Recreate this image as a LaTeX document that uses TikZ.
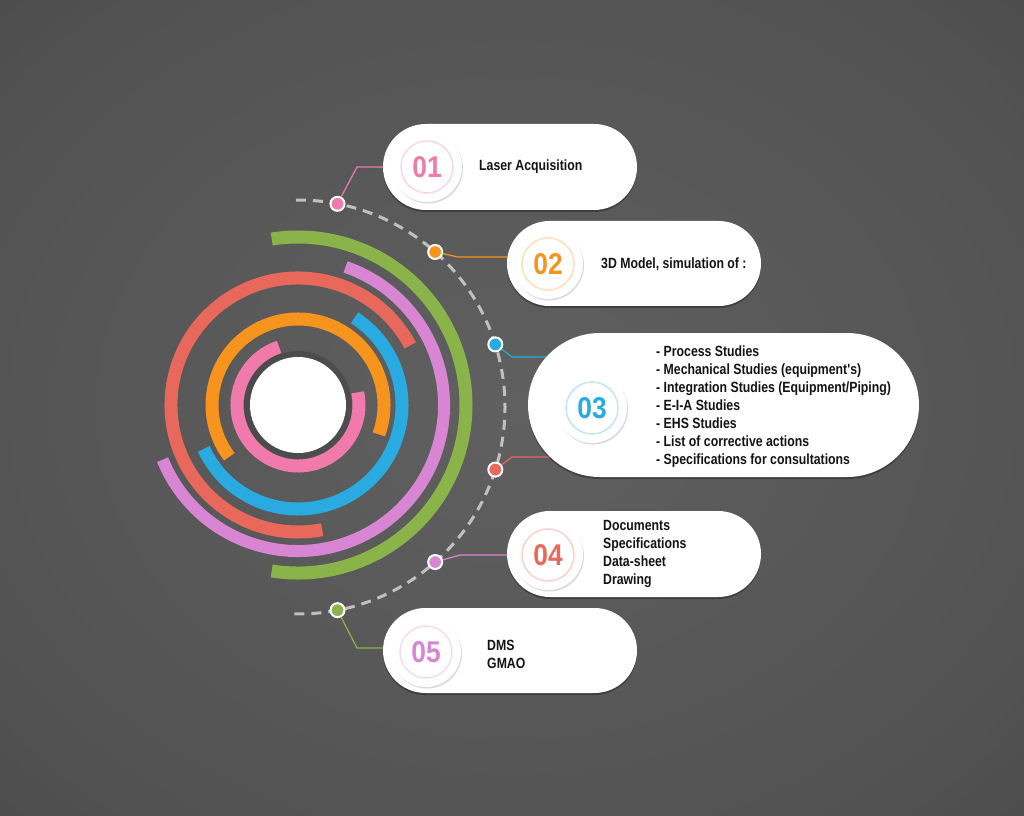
\documentclass[tikz,border=0pt]{standalone}
\usepackage{fontspec}
\newfontfamily\condfont{Liberation Sans Bold}[FakeStretch=0.83]
\newfontfamily\numfont{Liberation Sans Bold}[FakeStretch=0.88]
\usetikzlibrary{shapes.misc,shadows,calc}
\pgfdeclarelayer{bg}
\pgfdeclarelayer{mid}
\pgfsetlayers{bg,mid,main}
\definecolor{cpink}{RGB}{241,122,172}
\definecolor{corange}{RGB}{247,148,30}
\definecolor{cblue}{RGB}{41,171,226}
\definecolor{cred}{RGB}{232,104,92}
\definecolor{cviolet}{RGB}{216,134,212}
\definecolor{cgreen}{RGB}{138,180,74}
\definecolor{dashc}{RGB}{192,192,192}
\definecolor{bgin}{RGB}{96,96,96}
\definecolor{bgmid}{RGB}{82,82,82}
\definecolor{bgout}{RGB}{62,62,62}
\definecolor{txtc}{RGB}{20,20,20}
\pgfdeclareradialshading{bgsh}{\pgfpoint{0bp}{0bp}}{color(0bp)=(bgin); color(30bp)=(bgmid); color(50bp)=(bgout); color(100bp)=(bgout)}
\tikzset{
  ring/.style={line width=13},
  dashring/.style={dashc, line width=3, dash pattern=on 10 off 7},
  dotst/.style={circle, draw=white, line width=2, minimum size=14, inner sep=0},
  pill/.style={shape=rounded rectangle, fill=white, inner sep=0,
    drop shadow={shadow xshift=0pt, shadow yshift=-2pt, opacity=0.3, fill=black}},
  numdisc/.style={circle, fill=white, minimum size=70, inner sep=0,
    drop shadow={shadow xshift=1pt, shadow yshift=-1.5pt, opacity=0.15, fill=black}},
  numtxt/.style={font={\numfont\fontsize{30pt}{30pt}\selectfont}},
  txt/.style={anchor=west, align=left, text=txtc, inner sep=0,
    font={\condfont\fontsize{14.8pt}{18pt}\selectfont}},
  conn/.style={line width=1.2},
}
\begin{document}
\begin{tikzpicture}[x=1pt,y=1pt]
\useasboundingbox (0,0) rectangle (1024,815);
\begin{pgfonlayer}{bg}
\shade[shading=bgsh] (0,0) rectangle (1024,815);
\end{pgfonlayer}
% centres
\coordinate (A) at (298,410);
\coordinate (D) at (298,408);
% concentric arcs
\draw[ring, cgreen] (A) ++(-99:168) arc[start angle=-99, end angle=99, radius=168];
\draw[ring, cviolet, line width=12] (A) ++(-158:146) arc[start angle=-158, end angle=71, radius=146];
\draw[ring, cred] (A) ++(28:127) arc[start angle=28, end angle=281, radius=127];
\draw[ring, cblue] (A) ++(-155:104) arc[start angle=-155, end angle=57, radius=104];
\draw[ring, corange] (A) ++(-20:86) arc[start angle=-20, end angle=217, radius=86];
\draw[ring, cpink] (A) ++(108:61) arc[start angle=108, end angle=372, radius=61];
\fill[black, opacity=0.16] (A) circle[radius=54];
\fill[white] (A) circle[radius=48];
% dashed ring
\draw[dashring] (D) ++(-91:207) arc[start angle=-91, end angle=91, radius=207];
\path (D) ++(79:207) node[dotst, fill=cpink] (d1) {};
\path (D) ++(48.5:207) node[dotst, fill=corange] (d2) {};
\path (D) ++(17.6:207) node[dotst, fill=cblue] (d3) {};
\path (D) ++(-17.6:207) node[dotst, fill=cred] (d4) {};
\path (D) ++(-48.5:207) node[dotst, fill=cviolet] (d5) {};
\path (D) ++(-79:207) node[dotst, fill=cgreen] (d6) {};
% pills
\node[pill, minimum width=254, minimum height=86] (b1) at (510,648) {};
\node[pill, minimum width=254, minimum height=85] (b2) at (634,551.5) {};
\node[pill, minimum width=391, minimum height=144] (b3) at (723.5,410) {};
\node[pill, minimum width=254, minimum height=86] (b4) at (634,261) {};
\node[pill, minimum width=254, minimum height=85] (b5) at (510,164.5) {};
% number discs
\node[numdisc] (n1) at (427,648) {};
\node[numdisc] (n2) at (548,551) {};
\node[numdisc] (n3) at (592,407) {};
\node[numdisc] (n4) at (548,260) {};
\node[numdisc] (n5) at (426,163) {};
\draw[cpink!30, line width=1.5] (n1.center) circle[radius=26];
\draw[corange!30, line width=1.5] (n2.center) circle[radius=26];
\draw[cblue!30, line width=1.5] (n3.center) circle[radius=26];
\draw[cred!30, line width=1.5] (n4.center) circle[radius=26];
\draw[cviolet!30, line width=1.5] (n5.center) circle[radius=26];
\node[numtxt, text=cpink] (l1) at (n1.center) {01};
\node[numtxt, text=corange] (l2) at (n2.center) {02};
\node[numtxt, text=cblue] (l3) at (n3.center) {03};
\node[numtxt, text=cred] (l4) at (n4.center) {04};
\node[numtxt, text=cviolet] (l5) at (n5.center) {05};
% texts
\node[txt] (t1) at (479,648) {Laser Acquisition};
\node[txt] (t2) at (601,551) {3D Model, simulation of :};
\node[txt] (t3) at (656,408) {- Process Studies\\- Mechanical Studies (equipment's)\\- Integration Studies (Equipment/Piping)\\- E-I-A Studies\\- EHS Studies\\- List of corrective actions\\- Specifications for consultations};
\node[txt] (t4) at (603,261) {Documents\\Specifications\\Data-sheet\\Drawing};
\node[txt] (t5) at (487,161) {DMS\\GMAO};
% connectors
\coordinate (k1) at (357,648);
\coordinate (k2) at (458,558);
\coordinate (e2) at (515,558);
\coordinate (k3) at (512,458);
\coordinate (e3) at (565,458);
\coordinate (k4) at (512,358);
\coordinate (e4) at (565,358);
\coordinate (k5) at (460,260);
\coordinate (e5) at (515,260);
\coordinate (k6) at (357,167);
\coordinate (e6) at (390,167);
\begin{pgfonlayer}{mid}
\draw[conn, cpink] (d1) -- (k1) -- (b1.west);
\draw[conn, corange] (d2) -- (k2) -- (e2);
\draw[conn, cblue] (d3) -- (k3) -- (e3);
\draw[conn, cred] (d4) -- (k4) -- (e4);
\draw[conn, cviolet] (d5) -- (k5) -- (e5);
\draw[conn, cgreen] (d6) -- (k6) -- (e6);
\end{pgfonlayer}
\end{tikzpicture}
\end{document}
